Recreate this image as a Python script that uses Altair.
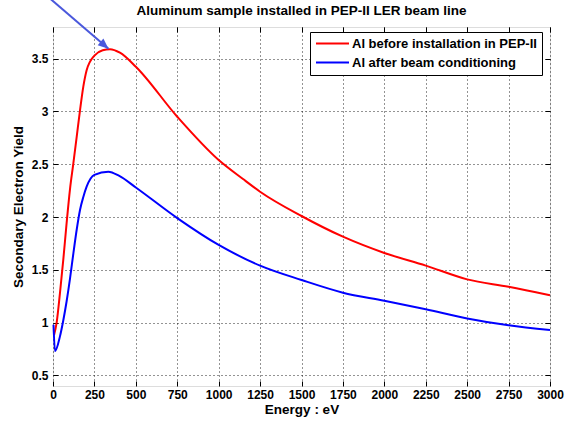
import math
import pandas as pd
import altair as alt

# Secondary electron yield of aluminium vs primary electron energy
energy_before = [6, 22, 42, 62, 82, 102, 123, 143, 163, 183, 203, 250, 300, 344, 404,
                 500, 750, 1000, 1147, 1250, 1500, 1750, 2000, 2250, 2500, 2750, 3000]
yield_before = [0.88, 1.0, 1.28, 1.594, 1.94, 2.256, 2.51, 2.76, 3.01, 3.235, 3.39, 3.53,
                3.58, 3.59, 3.557, 3.424, 2.95, 2.54, 2.36, 2.24, 2.01, 1.814, 1.66,
                1.54, 1.41, 1.34, 1.26]

energy_after = [3, 12, 42, 62, 82, 102, 123, 143, 163, 183, 203, 250, 334, 400, 500,
                750, 1000, 1250, 1500, 1750, 2000, 2250, 2500, 2750, 3000]
yield_after = [0.98, 0.73, 0.87, 1.02, 1.2, 1.41, 1.657, 1.88, 2.067, 2.19, 2.288,
               2.40, 2.43, 2.39, 2.28, 1.99, 1.736, 1.54, 1.404, 1.284, 1.208,
               1.127, 1.04, 0.975, 0.93]

series_names = ["Al before installation in PEP-II", "Al after beam conditioning"]
series_colors = ["#ff0000", "#0000ff"]

chart_title = "Aluminum sample installed in PEP-II LER beam line"

x_ticks = [0, 250, 500, 750, 1000, 1250, 1500, 1750, 2000, 2250, 2500, 2750, 3000]
y_ticks = [0.5, 1.0, 1.5, 2.0, 2.5, 3.0, 3.5]
x_domain = [0, 3000]
y_domain = [0.4, 3.8]

# annotation arrow pointing at the peak yield (energy, yield)
arrow_tail = [-22, 4.075]
arrow_head = [335, 3.595]

W, H = 497, 359
FONT = "Liberation Sans"

df = pd.DataFrame({
    "energy": energy_before + energy_after,
    "sey": yield_before + yield_after,
    "series": [series_names[0]] * len(energy_before) + [series_names[1]] * len(energy_after),
})

xs = alt.Scale(domain=x_domain, nice=False, zero=False)
ys = alt.Scale(domain=y_domain, nice=False, zero=False)

label_expr = "'' + datum.value"

main_x_axis = alt.Axis(
    values=x_ticks, labelExpr=label_expr, title="Energy : eV",
    domain=False, ticks=False, tickSize=0, labelPadding=3, titlePadding=2,
    grid=True, gridColor="#000000", gridOpacity=0.85, gridDash=[1, 3], gridWidth=1,
    labelFont=FONT, labelFontSize=12, labelFontWeight="bold", labelColor="black",
    titleFont=FONT, titleFontSize=13.5, titleFontWeight="bold", titleColor="black",
    labelFlush=False, labelOverlap=False,
)
main_y_axis = alt.Axis(
    values=y_ticks, labelExpr=label_expr, title="Secondary Electron Yield",
    domain=False, ticks=False, tickSize=0, labelPadding=5, titlePadding=6,
    grid=True, gridColor="#000000", gridOpacity=0.85, gridDash=[1, 3], gridWidth=1,
    labelFont=FONT, labelFontSize=12, labelFontWeight="bold", labelColor="black",
    titleFont=FONT, titleFontSize=13.5, titleFontWeight="bold", titleColor="black",
    labelFlush=False, labelOverlap=False,
)


def tick_axis(orient, values):
    # inward-pointing tick marks: axis moved inside the frame by the tick length
    return alt.Axis(orient=orient, values=values, offset=-5, tickSize=5, ticks=True,
                    tickColor="black", tickWidth=1, labels=False, domain=False,
                    grid=False, title=None, minExtent=0, maxExtent=0)


base = alt.Chart(df)

curves = base.mark_line(strokeWidth=2, interpolate="monotone").encode(
    x=alt.X("energy:Q", scale=xs, axis=main_x_axis),
    y=alt.Y("sey:Q", scale=ys, axis=main_y_axis),
    color=alt.Color(
        "series:N",
        scale=alt.Scale(domain=series_names, range=series_colors),
        sort=series_names,
        legend=alt.Legend(
            title=None, orient="none", legendX=257, legendY=5,
            strokeColor="black", fillColor="white", padding=5,
            # short horizontal stroke, drawn off-centre so the row height stays small
            symbolType="M-1,0L5,0", symbolSize=121, symbolStrokeWidth=2,
            labelFont=FONT, labelFontSize=13, labelFontWeight="bold",
            labelColor="black", labelLimit=400, labelOffset=24, rowPadding=5,
        ),
    ),
)

ticks_bl = base.mark_line(opacity=0).encode(
    x=alt.X("energy:Q", scale=xs, axis=tick_axis("bottom", x_ticks)),
    y=alt.Y("sey:Q", scale=ys, axis=tick_axis("left", y_ticks)),
    detail="series:N",
)
ticks_tr = base.mark_line(opacity=0).encode(
    x=alt.X("energy:Q", scale=xs, axis=tick_axis("top", x_ticks)),
    y=alt.Y("sey:Q", scale=ys, axis=tick_axis("right", y_ticks)),
    detail="series:N",
)

# arrow geometry
dx_px = (arrow_head[0] - arrow_tail[0]) * W / (x_domain[1] - x_domain[0])
dy_px = (arrow_tail[1] - arrow_head[1]) * H / (y_domain[1] - y_domain[0])
arrow_angle = math.degrees(math.atan2(dx_px, -dy_px)) % 360

arrow_df = pd.DataFrame({
    "x": [arrow_tail[0]], "y": [arrow_tail[1]],
    "x2": [arrow_head[0]], "y2": [arrow_head[1]],
})
head_df = pd.DataFrame({"x": [arrow_head[0]], "y": [arrow_head[1]]})

ARROW_COLOR = "#4a58dc"
arrow_line = alt.Chart(arrow_df).mark_rule(
    color=ARROW_COLOR, strokeWidth=2, clip=False
).encode(
    x=alt.X("x:Q", scale=xs, axis=None),
    y=alt.Y("y:Q", scale=ys, axis=None),
    x2="x2:Q", y2="y2:Q",
)
arrow_tip = alt.Chart(head_df).mark_point(
    shape="M0,0L-0.42,1L0.42,1Z", filled=True, size=440, opacity=1,
    color=ARROW_COLOR, angle=arrow_angle, clip=False,
).encode(
    x=alt.X("x:Q", scale=xs, axis=None),
    y=alt.Y("y:Q", scale=ys, axis=None),
)

# chart heading, centred over the plot frame
heading = alt.Chart(pd.DataFrame({"t": [chart_title]})).mark_text(
    font=FONT, fontSize=13.5, fontWeight="bold", color="black",
    align="center", baseline="alphabetic",
).encode(
    x=alt.value(W / 2), y=alt.value(-12), text="t:N",
)

chart = alt.layer(curves, ticks_bl, ticks_tr, arrow_line, arrow_tip, heading).resolve_axis(
    x="independent", y="independent"
).properties(
    width=W, height=H,
    autosize=alt.AutoSizeParams(type="none"),
    padding={"left": 53, "top": 27, "right": 16, "bottom": 39},
).configure_view(
    stroke="black", strokeWidth=1
).configure(background="white")

chart.save("out.html", embed_options={"renderer": "svg", "actions": False})
